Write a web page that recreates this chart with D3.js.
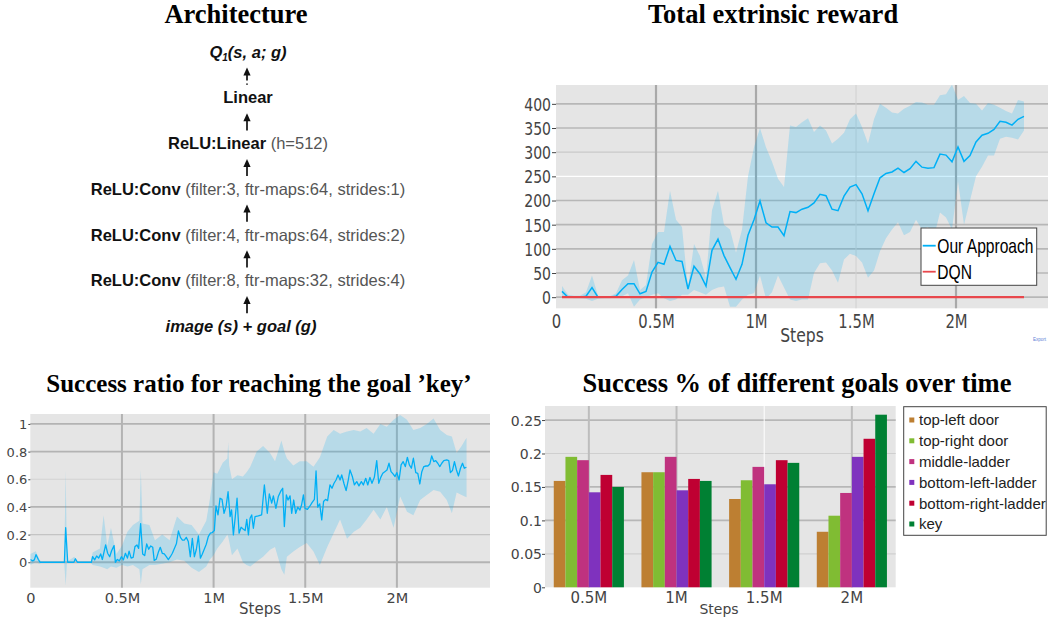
<!DOCTYPE html>
<html>
<head>
<meta charset="utf-8">
<script src="https://cdn.jsdelivr.net/npm/d3@7"></script>
<style>
body{margin:0;background:#fff;}
svg{display:block;}
</style>
</head>
<body>
<div class="container"></div>
<script>
const WIDTH = 1048;
const HEIGHT = 618;
const TICK_FONT = "DejaVu Sans, Verdana, sans-serif";
const SANS = "Liberation Sans, Arial, Helvetica, sans-serif";
const SERIF = "Liberation Serif, Times New Roman, serif";
const BLUE = "rgb(0,176,246)";
const BAND = "rgba(0,176,246,0.2)";

// ---- architecture ----
var archTop = "Q";
var archBold = ["Linear", "ReLU:Linear", "ReLU:Conv", "ReLU:Conv", "ReLU:Conv"];
var archDetail = ["", "(h=512)", "(filter:3, ftr-maps:64, strides:1)", "(filter:4, ftr-maps:64, strides:2)", "(filter:8, ftr-maps:32, strides:4)"];
var archBottom = "image (s) + goal (g)";

// ---- total extrinsic reward ----
var stepTicks = [0, 0.5, 1, 1.5, 2];
var stepLabels = ["0", "0.5M", "1M", "1.5M", "2M"];
var rewardTicks = [0, 50, 100, 150, 200, 250, 300, 350, 400];
var rewardSteps = [0.03,0.06,0.09,0.12,0.15,0.18,0.21,0.24,0.27,0.30,0.33,0.36,0.39,0.42,0.45,0.48,0.51,0.54,0.57,0.60,
  0.63,0.66,0.69,0.72,0.75,0.78,0.81,0.84,0.87,0.90,0.93,0.96,0.99,1.02,1.05,1.08,1.11,1.14,1.17,1.20,
  1.23,1.26,1.29,1.32,1.35,1.38,1.41,1.44,1.47,1.50,1.53,1.56,1.59,1.62,1.65,1.68,1.71,1.74,1.77,1.80,
  1.83,1.86,1.89,1.92,1.95,1.98,2.01,2.04,2.07,2.10,2.13,2.16,2.19,2.22,2.25,2.28,2.31,2.34];
var rewardMean = [12,0,0,0,2,20,0,0,0,2,16,28,28,7,12,52,72,68,105,76,
  74,17,64,48,23,97,120,86,61,37,68,128,160,199,154,145,145,127,177,175,
  182,186,195,213,210,182,179,209,228,233,214,179,214,247,256,259,267,258,266,281,
  269,267,268,296,294,280,311,281,293,321,335,339,347,364,362,356,368,374];
var rewardUpper = [23,5,3,3,10,45,3,2,2,8,35,45,77,15,25,110,135,135,220,160,
  145,20,110,85,40,180,220,150,140,92,140,250,310,350,310,280,245,228,355,352,
  362,370,342,355,345,318,328,340,368,380,352,318,368,400,392,382,380,390,396,404,
  403,398,398,418,420,440,408,416,402,400,386,402,398,392,385,380,408,405];
var rewardLower = [0,0,-2,-2,-3,-8,-3,-2,-2,0,2,8,-20,-5,0,5,8,-2,-8,-5,
  5,5,15,10,5,15,20,22,-20,-20,-5,5,8,45,-3,10,45,20,-5,-8,
  -5,-5,50,70,72,55,30,78,90,85,72,40,55,95,122,140,155,128,135,160,
  140,145,125,175,165,140,240,150,200,250,270,293,293,328,332,330,326,345];
var dqnSteps = [0.03, 2.34];
var dqnReward = [0, 0];
var rewardNames = ["Our Approach", "DQN"];

// ---- success ratio for the key ----
var ratioTicks = [0, 0.2, 0.4, 0.6, 0.8, 1];
var ratioSteps = [0,0.013,0.022,0.031,0.044,0.053,0.186,0.193,0.204,0.238,0.246,0.257,0.333,
  0.340,0.351,0.362,0.373,0.384,0.393,0.411,0.422,0.433,0.444,0.457,0.464,0.475,0.486,0.497,0.508,
  0.519,0.530,0.539,0.550,0.561,0.571,0.582,0.591,0.602,0.613,0.624,0.635,0.646,0.657,0.668,0.676,
  0.687,0.698,0.709,0.720,0.731,0.742,0.753,0.764,0.775,0.786,0.797,0.808,0.819,0.830,0.840,0.851,
  0.862,0.873,0.884,0.895,0.906,0.917,0.928,0.938,0.949,0.960,0.971,0.982,0.993,1.004,1.013,1.024,
  1.035,1.046,1.057,1.068,1.079,1.090,1.098,1.108,1.118,1.128,1.139,1.150,1.161,1.172,1.181,1.190,
  1.199,1.208,1.217,1.226,1.244,1.262,1.277,1.293,1.304,1.317,1.326,1.340,1.353,1.368,1.377,1.386,
  1.397,1.406,1.417,1.426,1.437,1.448,1.459,1.471,1.480,1.490,1.499,1.512,1.526,1.537,1.550,1.559,
  1.568,1.579,1.590,1.600,1.611,1.622,1.635,1.646,1.657,1.668,1.679,1.690,1.699,1.712,1.723,1.735,
  1.744,1.757,1.768,1.781,1.793,1.806,1.817,1.830,1.841,1.853,1.864,1.877,1.890,1.901,1.912,1.923,
  1.934,1.946,1.957,1.968,1.979,1.990,2.000,2.012,2.023,2.034,2.046,2.057,2.068,2.079,2.090,2.103,
  2.114,2.125,2.136,2.147,2.158,2.169,2.180,2.190,2.201,2.212,2.223,2.234,2.245,2.256,2.272,2.283,
  2.292,2.303,2.314,2.325,2.336,2.347,2.358,2.368,2.379];
var ratioMean = [0.02,0.01,0.017,0.055,0.02,0,0,0.25,0,0,0.025,0,0,
  0.04,0.017,0.045,0.03,0.06,0.02,0.125,0.065,0.04,0.085,0.12,0,0.02,0.01,0.04,0.017,
  0.065,0.03,0.08,0.03,0.035,0.113,0.125,0.1,0.28,0.06,0.048,0.133,0.094,0.118,0.108,0.014,
  0.022,0.07,0.108,0.065,0.06,0.04,0.019,0.04,0.065,0.099,0.133,0.226,0.18,0.16,0.16,0.18,
  0.15,0.04,0.173,0.04,0.094,0.19,0.03,0.058,0.094,0.13,0.185,0.21,0.215,0.229,0.407,0.342,
  0.463,0.455,0.354,0.402,0.51,0.33,0.378,0.198,0.325,0.463,0.21,0.253,0.24,0.229,0.31,0.198,
  0.318,0.342,0.246,0.33,0.335,0.342,0.559,0.354,0.494,0.427,0.48,0.39,0.475,0.518,0.535,0.258,
  0.487,0.45,0.48,0.354,0.45,0.354,0.398,0.378,0.414,0.487,0.39,0.383,0.407,0.431,0.455,0.66,
  0.398,0.422,0.306,0.439,0.455,0.446,0.559,0.535,0.571,0.595,0.631,0.595,0.631,0.566,0.518,0.595,
  0.667,0.62,0.559,0.583,0.552,0.583,0.559,0.607,0.559,0.614,0.571,0.614,0.735,0.571,0.614,0.643,
  0.655,0.667,0.716,0.655,0.639,0.62,0.648,0.595,0.704,0.728,0.692,0.759,0.704,0.68,0.752,0.648,
  0.643,0.566,0.655,0.692,0.696,0.696,0.711,0.769,0.728,0.735,0.716,0.692,0.716,0.735,0.74,0.735,
  0.648,0.663,0.728,0.667,0.624,0.68,0.716,0.68,0.687];
var ratioBandSteps = [0,0.03,0.05,0.06,0.185,0.193,0.2,0.24,0.26,0.33,0.34,0.38,0.4,0.42,0.44,0.47,0.5,0.53,0.56,
  0.595,0.603,0.612,0.65,0.68,0.72,0.76,0.8,0.84,0.88,0.92,0.96,0.98,1.0,1.02,1.05,1.075,1.08,1.085,1.1,
  1.13,1.16,1.18,1.2,1.235,1.27,1.308,1.335,1.37,1.386,1.4,1.435,1.47,1.508,1.545,1.58,1.62,1.655,1.69,
  1.728,1.765,1.8,1.835,1.873,1.91,1.945,1.982,2.018,2.055,2.09,2.127,2.163,2.2,2.236,2.272,2.3,2.326,2.353,2.38];
var ratioUpper = [0.06,0.08,0.02,0.003,0.003,0.67,0.003,0.04,0.003,0.003,0.07,0.1,0.34,0.12,0.25,0.06,0.12,0.22,0.27,
  0.3,0.67,0.28,0.27,0.16,0.2,0.16,0.33,0.28,0.27,0.2,0.3,0.46,0.65,0.64,0.72,0.75,0.87,0.7,0.6,
  0.63,0.62,0.65,0.69,0.8,0.84,0.79,0.73,0.88,0.8,0.75,0.7,0.73,0.73,0.69,0.76,0.91,0.957,0.93,
  0.945,0.957,0.945,0.97,0.93,1.0,0.98,1.03,1.065,1.03,0.957,0.97,1.0,1.04,0.957,0.92,0.91,0.79,0.84,0.9];
var ratioLower = [-0.02,0,-0.01,-0.003,-0.003,-0.17,-0.003,0.01,-0.003,-0.003,-0.02,-0.03,-0.04,-0.05,-0.03,-0.04,-0.02,-0.03,-0.02,
  -0.05,-0.16,-0.05,-0.02,-0.02,-0.01,0,0.02,0.01,-0.04,-0.07,-0.03,0.02,0.05,0.1,0.15,0.2,0.18,0.15,0.05,
  0.1,0,-0.02,-0.03,0.005,0.04,0.09,0.11,-0.05,-0.09,0.04,0.077,0.11,0.14,0.077,-0.02,0.11,0.21,0.31,
  0.17,0.22,0.25,0.31,0.38,0.31,0.4,0.25,0.475,0.366,0.34,0.45,0.487,0.523,0.51,0.45,0.354,0.504,0.487,0.47];

// ---- success % of goals ----
var goalSteps = ["0.5M", "1M", "1.5M", "2M"];
var goalTicks = [0, 0.05, 0.1, 0.15, 0.2, 0.25];
var goalNames = ["top-left door", "top-right door", "middle-ladder", "bottom-left-ladder", "bottom-right-ladder", "key"];
var topLeftDoor = [0.159, 0.172, 0.132, 0.083];
var topRightDoor = [0.195, 0.172, 0.160, 0.107];
var middleLadder = [0.190, 0.195, 0.180, 0.141];
var bottomLeftLadder = [0.142, 0.145, 0.154, 0.195];
var bottomRightLadder = [0.168, 0.162, 0.190, 0.222];
var keyGoal = [0.150, 0.159, 0.186, 0.258];
var goalColors = ["#bd7f32", "#80bc33", "#bf327f", "#7f32be", "#bf0032", "#008033"];


var svg = d3.select('.container')
    .append('svg')
    .attr("width", WIDTH)
    .attr("height", HEIGHT);

function hGrid(g, y, ticks, xr, styleOf){
    g.selectAll(null).data(ticks).enter().append("line")
        .attr("x1", xr[0]).attr("x2", xr[1])
        .attr("y1", function(d){ return y(d); })
        .attr("y2", function(d){ return y(d); })
        .attr("stroke", function(d){ return styleOf(d)[0]; })
        .attr("stroke-width", function(d){ return styleOf(d)[1]; });
}
function vGrid(g, x, ticks, yr, styleOf){
    g.selectAll(null).data(ticks).enter().append("line")
        .attr("y1", yr[0]).attr("y2", yr[1])
        .attr("x1", function(d){ return x(d); })
        .attr("x2", function(d){ return x(d); })
        .attr("stroke", function(d){ return styleOf(d)[0]; })
        .attr("stroke-width", function(d){ return styleOf(d)[1]; });
}
function title(text, cx, y, size){
    svg.append("text").attr("x", cx).attr("y", y)
        .attr("text-anchor", "middle")
        .attr("font-family", SERIF).attr("font-weight", "bold")
        .attr("font-size", size).attr("fill", "#000")
        .text(text);
}
function clip(id, x0, x1, y0, y1){
    svg.append("clipPath").attr("id", id).append("rect")
        .attr("x", x0).attr("y", y0).attr("width", x1 - x0).attr("height", y1 - y0);
}

// =============== Architecture ===============
var generateArchitecture = function(){
    title("Architecture", 236, 23, 26.5);
    var g = svg.append("g").attr("font-family", SANS).attr("font-size", 16.5);
    var cx = 247;
    var rowY = function(i){ return 52 + i * 45.7; };

    var q = g.append("text").attr("x", cx + 1).attr("y", rowY(0) + 5.5)
        .attr("text-anchor", "middle").attr("font-weight", "bold")
        .attr("font-style", "italic").attr("fill", "#111");
    q.append("tspan").text(archTop);
    q.append("tspan").attr("font-size", 10).attr("dy", 3).text("1");
    q.append("tspan").attr("dy", -3).text("(s, a; g)");

    archBold.forEach(function(b, i){
        var t = g.append("text").attr("x", cx + 1).attr("y", rowY(i + 1) + 5.7)
            .attr("text-anchor", "middle");
        t.append("tspan").attr("font-weight", "bold").attr("fill", "#111").text(b);
        if (archDetail[i]) {
            t.append("tspan").attr("fill", "#555").text(" " + archDetail[i]);
        }
    });

    g.append("text").attr("x", cx - 6).attr("y", rowY(6) + 5.5)
        .attr("text-anchor", "middle").attr("font-weight", "bold")
        .attr("font-style", "italic").attr("fill", "#111")
        .text(archBottom);

    for (var i = 0; i < 6; i++) {
        var tip = rowY(i) + 15.5;
        var tail = rowY(i + 1) - 13;
        g.append("path")
            .attr("d", "M" + cx + "," + tip + "L" + (cx - 3.6) + "," + (tip + 8) + "L" + (cx + 3.6) + "," + (tip + 8) + "Z")
            .attr("fill", "#111");
        g.append("line").attr("x1", cx).attr("x2", cx)
            .attr("y1", tip + 6).attr("y2", tail)
            .attr("stroke", "#111").attr("stroke-width", 1.7)
            .attr("stroke-dasharray", i === 0 ? "7,3,3" : null);
    }
};

// =============== Total extrinsic reward ===============
var generateReward = function(){
    title("Total extrinsic reward", 773, 23, 26.5);
    var x = d3.scaleLinear().domain([0, 2.46]).range([556, 1048]);
    var y = d3.scaleLinear().domain([-23, 439]).range([308.3, 85]);
    var SQ = 0.78;

    svg.append("rect").attr("x", 556).attr("y", 85)
        .attr("width", 1048 - 556).attr("height", 308.3 - 85).attr("fill", "#e5e5e5");
    var grid = svg.append("g");
    hGrid(grid, y, rewardTicks, [556, 1048], function(d){
        if (d === 250) return ["#ffffff", 1.3];
        if (d === 300) return ["#c9c9c9", 1.2];
        return ["#b7b7b7", 1.7];
    });
    vGrid(grid, x, stepTicks.slice(1), [85, 308.3], function(d){
        return d === 1.5 ? ["#d0d0d0", 1] : ["#a9a9a9", 2.2];
    });

    clip("clipR", 556, 1048, 85, 308.3);
    var plot = svg.append("g").attr("clip-path", "url(#clipR)");
    var area = d3.area()
        .x(function(d, i){ return x(rewardSteps[i]); })
        .y0(function(d, i){ return y(rewardLower[i]); })
        .y1(function(d, i){ return y(rewardUpper[i]); });
    plot.append("path").datum(rewardMean).attr("d", area).attr("fill", BAND);
    var line = d3.line()
        .x(function(d, i){ return x(rewardSteps[i]); })
        .y(function(d){ return y(d); });
    plot.append("path").datum(rewardMean).attr("d", line)
        .attr("fill", "none").attr("stroke", BLUE).attr("stroke-width", 1.5);
    var dqnLine = d3.line()
        .x(function(d, i){ return x(dqnSteps[i]); })
        .y(function(d){ return y(d); });
    plot.append("path").datum(dqnReward).attr("d", dqnLine)
        .attr("fill", "none").attr("stroke", "#e8474c").attr("stroke-width", 2.2);

    var ya = svg.append("g").attr("transform", "translate(556,0)")
        .call(d3.axisLeft(y).tickValues(rewardTicks).tickSize(4));
    ya.select(".domain").remove();
    ya.attr("font-family", TICK_FONT).attr("font-size", 18);
    ya.selectAll("line").attr("stroke", "#444");
    ya.selectAll("text").attr("x", 0).attr("dy", "0.36em").attr("fill", "#444")
        .attr("transform", "translate(-5,0) scale(" + SQ + ",1)");

    var xa = svg.append("g").attr("transform", "translate(0,308.3)")
        .call(d3.axisBottom(x).tickValues(stepTicks).tickSize(0)
            .tickFormat(function(d, i){ return stepLabels[i]; }));
    xa.select(".domain").remove();
    xa.attr("font-family", TICK_FONT).attr("font-size", 19);
    xa.selectAll("text").attr("y", 0).attr("dy", 0).attr("fill", "#444")
        .attr("transform", "translate(0,20) scale(" + SQ + ",1)");

    svg.append("text").attr("transform", "translate(802,342) scale(" + SQ + ",1)")
        .attr("text-anchor", "middle").attr("font-family", TICK_FONT)
        .attr("font-size", 20).attr("fill", "#444").text("Steps");

    // legend
    var lg = svg.append("g");
    lg.append("rect").attr("x", 921).attr("y", 228).attr("width", 115.7).attr("height", 57.3)
        .attr("fill", "#fff").attr("stroke", "#444").attr("stroke-width", 1);
    var lcol = [BLUE, "#e8474c"];
    rewardNames.forEach(function(n, i){
        var ly = 245.7 + i * 26;
        lg.append("line").attr("x1", 922.7).attr("x2", 935.7).attr("y1", ly).attr("y2", ly)
            .attr("stroke", lcol[i]).attr("stroke-width", 1.8);
        lg.append("text").attr("transform", "translate(937.3," + (ly + 7) + ") scale(" + SQ + ",1)")
            .attr("font-family", SANS).attr("font-size", 20).attr("fill", "#000").text(n);
    });

    svg.append("text").attr("x", 1046).attr("y", 341).attr("text-anchor", "end")
        .attr("font-family", SANS).attr("font-size", 4.5).attr("fill", "#5b7fd6").text("Export");
};

// =============== Success ratio ===============
var generateRatio = function(){
    title("Success ratio for reaching the goal \u2019key\u2019", 259, 392, 25);
    var x = d3.scaleLinear().domain([0, 2.508]).range([30.3, 490]);
    var y = d3.scaleLinear().domain([-0.184, 1.072]).range([587.7, 414]);

    svg.append("rect").attr("x", 30.3).attr("y", 414)
        .attr("width", 490 - 30.3).attr("height", 587.7 - 414).attr("fill", "#e5e5e5");
    var grid = svg.append("g");
    hGrid(grid, y, ratioTicks, [30.3, 490], function(d){
        if (d === 0.6) return ["#d2d2d2", 1.1];
        if (d === 0.2) return ["#c4c4c4", 1.3];
        return ["#b3b3b3", 1.8];
    });
    vGrid(grid, x, stepTicks.slice(1), [414, 587.7], function(){ return ["#b3b3b3", 2]; });

    clip("clipS", 30.3, 490, 414, 587.7);
    var plot = svg.append("g").attr("clip-path", "url(#clipS)");
    var area = d3.area()
        .x(function(d, i){ return x(ratioBandSteps[i]); })
        .y0(function(d, i){ return y(ratioLower[i]); })
        .y1(function(d){ return y(d); });
    plot.append("path").datum(ratioUpper).attr("d", area).attr("fill", BAND);
    var line = d3.line()
        .x(function(d, i){ return x(ratioSteps[i]); })
        .y(function(d){ return y(d); });
    plot.append("path").datum(ratioMean).attr("d", line)
        .attr("fill", "none").attr("stroke", BLUE).attr("stroke-width", 1.3)
        .attr("stroke-linejoin", "round");

    var ya = svg.append("g").attr("transform", "translate(30.3,0)")
        .call(d3.axisLeft(y).tickValues(ratioTicks).tickSize(2)
            .tickFormat(function(d){ return String(d); }));
    ya.select(".domain").remove();
    ya.attr("font-family", TICK_FONT).attr("font-size", 13);
    ya.selectAll("line").attr("stroke", "#444");
    ya.selectAll("text").attr("x", -3).attr("dy", "0.36em").attr("fill", "#444");

    var xa = svg.append("g").attr("transform", "translate(0,587.7)")
        .call(d3.axisBottom(x).tickValues(stepTicks).tickSize(0)
            .tickFormat(function(d, i){ return stepLabels[i]; }));
    xa.select(".domain").remove();
    xa.attr("font-family", TICK_FONT).attr("font-size", 14.5);
    xa.selectAll("text").attr("y", 15.5).attr("dy", 0).attr("fill", "#444");

    svg.append("text").attr("x", 260).attr("y", 614).attr("text-anchor", "middle")
        .attr("font-family", TICK_FONT).attr("font-size", 15).attr("fill", "#444").text("Steps");
};

// =============== Success % of goals ===============
var generateGoals = function(){
    title("Success % of different goals over time", 797, 392, 26.5);
    var goalSeries = [topLeftDoor, topRightDoor, middleLadder, bottomLeftLadder, bottomRightLadder, keyGoal];
    var x0 = d3.scaleBand().domain(goalSteps).range([545, 895.7]).paddingInner(0.2).paddingOuter(0.1);
    var x1 = d3.scaleBand().domain(goalNames).range([0, x0.bandwidth()]);
    var y = d3.scaleLinear().domain([0, 0.271]).range([587.3, 406]);

    svg.append("rect").attr("x", 545).attr("y", 406)
        .attr("width", 895.7 - 545).attr("height", 587.3 - 406).attr("fill", "#e5e5e5");
    var grid = svg.append("g");
    hGrid(grid, y, goalTicks.slice(1), [545, 895.7], function(d){
        if (d === 0.05 || d === 0.2) return ["#cfcfcf", 1.2];
        return ["#b7b7b7", 1.8];
    });
    vGrid(grid, function(d){ return x0(d) + x0.bandwidth() / 2; }, goalSteps, [406, 587.3], function(d){
        return d === "1.5M" ? ["#ffffff", 1] : ["#bdbdbd", 2];
    });

    var groups = svg.append("g").selectAll("g").data(goalSeries).enter().append("g")
        .attr("fill", function(d, i){ return goalColors[i]; });
    groups.each(function(series, si){
        d3.select(this).selectAll("rect").data(series).enter().append("rect")
            .attr("x", function(d, ci){ return x0(goalSteps[ci]) + x1(goalNames[si]); })
            .attr("width", x1.bandwidth())
            .attr("y", function(d){ return y(d); })
            .attr("height", function(d){ return y(0) - y(d); });
    });

    var ya = svg.append("g").attr("transform", "translate(545,0)")
        .call(d3.axisLeft(y).tickValues(goalTicks).tickSize(3)
            .tickFormat(function(d){ return String(d); }));
    ya.select(".domain").remove();
    ya.attr("font-family", TICK_FONT).attr("font-size", 14);
    ya.selectAll("line").attr("stroke", "#444");
    ya.selectAll("text").attr("x", -3).attr("dy", "0.36em").attr("fill", "#444");

    var xa = svg.append("g").attr("transform", "translate(0,587.3)")
        .call(d3.axisBottom(x0).tickSize(0));
    xa.select(".domain").remove();
    xa.attr("font-family", TICK_FONT).attr("font-size", 15);
    xa.selectAll("text").attr("y", 15.7).attr("dy", 0).attr("fill", "#444");

    svg.append("text").attr("x", 719).attr("y", 613.5).attr("text-anchor", "middle")
        .attr("font-family", TICK_FONT).attr("font-size", 14).attr("fill", "#444").text("Steps");

    var lg = svg.append("g");
    lg.append("rect").attr("x", 903.7).attr("y", 406.7).attr("width", 142.5).attr("height", 128.6)
        .attr("fill", "#fff").attr("stroke", "#444").attr("stroke-width", 1);
    goalNames.forEach(function(n, i){
        var ly = 420 + i * 20.8;
        lg.append("rect").attr("x", 909.3).attr("y", ly - 2.5).attr("width", 5).attr("height", 5)
            .attr("fill", goalColors[i]);
        lg.append("text").attr("x", 919).attr("y", ly + 5.3)
            .attr("font-family", SANS).attr("font-size", 15).attr("fill", "#222").text(n);
    });
};

generateArchitecture();
generateReward();
generateRatio();
generateGoals();
</script>
</body>
</html>
